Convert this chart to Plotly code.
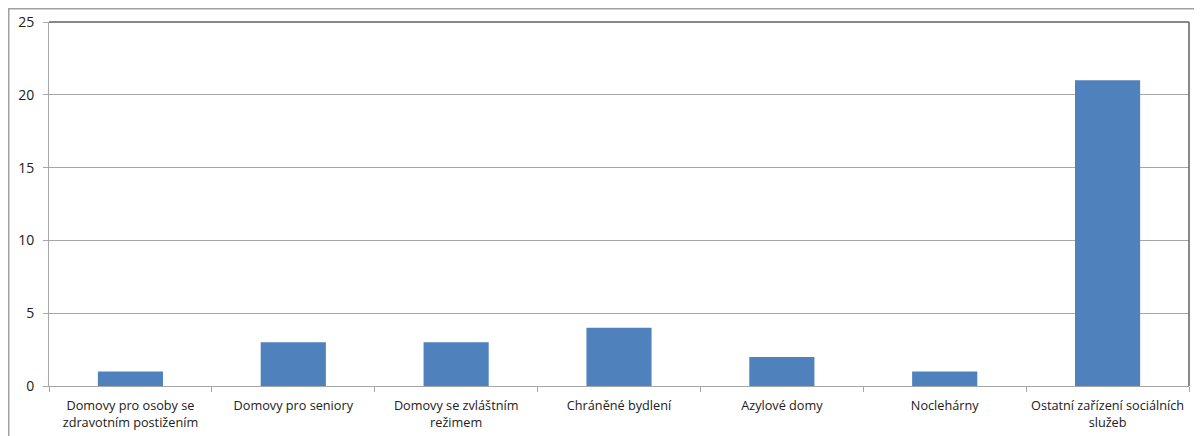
import plotly.graph_objects as go

categories = [
    "Domovy pro osoby se<br>zdravotním postižením",
    "Domovy pro seniory",
    "Domovy se zvláštním<br>režimem",
    "Chráněné bydlení",
    "Azylové domy",
    "Noclehárny",
    "Ostatní zařízení sociálních<br>služeb",
]
values = [1, 3, 3, 4, 2, 1, 21]
y_ticks = [0, 5, 10, 15, 20, 25]

# page body has an 8px margin, so the figure fills the rest of the window
W, H = 1194, 428
L, R, T, B = 41, 13, 14, 50
pw = W - L - R
ph = H - T - B

fig = go.Figure(go.Bar(x=categories, y=values, marker_color="#4F81BD",
                       marker_line_width=0, width=0.4))

font = dict(family="Open Sans, Liberation Sans, sans-serif", size=12, color="#202020")
fig.update_layout(
    width=W, height=H,
    margin=dict(l=L, r=R, t=T, b=B),
    plot_bgcolor="white", paper_bgcolor="white",
    font=font, showlegend=False, bargap=0.6,
    xaxis=dict(showgrid=False, showline=True, linecolor="#a6a6a6", linewidth=1,
               ticks="outside", tickson="boundaries", ticklen=5, tickcolor="#a6a6a6",
               tickfont=dict(size=12.7), ticklabelstandoff=8, automargin=False),
    yaxis=dict(range=[0, 25], tickvals=y_ticks, showgrid=True, gridcolor="#a6a6a6",
               gridwidth=1, showline=True, linecolor="#a6a6a6", linewidth=1,
               ticks="outside", ticklen=5, tickcolor="#a6a6a6", zeroline=False,
               tickfont=dict(size=14), ticklabelstandoff=6, automargin=False),
)

# plot-area top and right border (darker)
fig.add_shape(type="line", xref="paper", yref="paper", x0=0, x1=1, y0=1, y1=1,
              line=dict(color="#606060", width=1.5))
fig.add_shape(type="line", xref="paper", yref="paper", x0=1, x1=1, y0=0, y1=1,
              line=dict(color="#606060", width=1.5))
# outer chart border (left, top, right edges visible)
fig.add_shape(type="rect", xref="paper", yref="paper",
              x0=(0.75 - L) / pw, x1=(W - 1.5 - L) / pw,
              y0=-(B + 10) / ph, y1=1 + (T - 0.75) / ph,
              line=dict(color="#a0a0a0", width=1.5), layer="below")

fig.write_html("out.html")
